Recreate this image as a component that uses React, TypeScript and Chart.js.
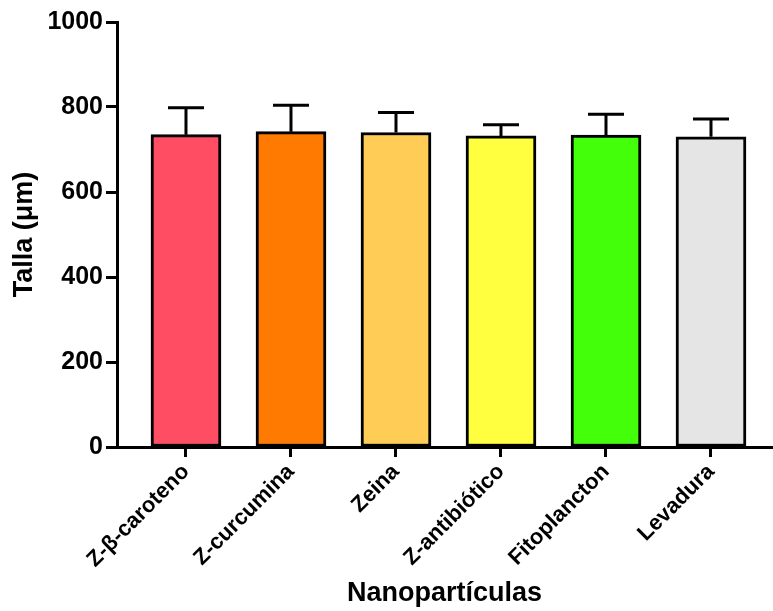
import React, { useEffect, useRef } from 'react';
import { Chart, registerables } from 'chart.js';

Chart.register(...registerables);

const categories = ['Z-β-caroteno', 'Z-curcumina', 'Zeina', 'Z-antibiótico', 'Fitoplancton', 'Levadura'];
const means = [735, 742, 740, 732, 734, 730];
const sdUpper = [63, 62, 47, 26, 49, 42];
const barColors = ['#FF4D63', '#FF7A00', '#FFCC55', '#FFFF40', '#44FF0A', '#E5E5E5'];
const yTicks = [0, 200, 400, 600, 800, 1000];

const FONT = "'Liberation Sans', Arial, Helvetica, sans-serif";

const errorBarPlugin = {
  id: 'errorBars',
  afterDatasetsDraw(chart: any) {
    const { ctx } = chart;
    const y = chart.scales.y;
    const meta = chart.getDatasetMeta(0);
    ctx.save();
    ctx.strokeStyle = '#000';
    ctx.lineWidth = 3;
    ctx.lineCap = 'butt';
    meta.data.forEach((bar: any, i: number) => {
      const top = y.getPixelForValue(means[i] + sdUpper[i]);
      ctx.beginPath();
      ctx.moveTo(bar.x, bar.y);
      ctx.lineTo(bar.x, top);
      ctx.moveTo(bar.x - 18, top);
      ctx.lineTo(bar.x + 18, top);
      ctx.stroke();
    });
    ctx.restore();
  },
};

export default function App() {
  const ref = useRef<HTMLCanvasElement | null>(null);

  useEffect(() => {
    if (!ref.current) return;
    const chart = new Chart(ref.current, {
      type: 'bar',
      data: {
        datasets: [
          {
            data: means.map((m, i) => ({ x: i, y: m })),
            backgroundColor: barColors,
            borderColor: '#000',
            borderWidth: 3,
            borderSkipped: false,
            barThickness: 70,
          } as any,
        ],
      },
      options: {
        responsive: false,
        animation: false,
        events: [],
        layout: { padding: { top: 22, right: 1, bottom: 0, left: 0 } },
        plugins: { legend: { display: false }, tooltip: { enabled: false } },
        scales: {
          x: {
            type: 'linear',
            offset: false,
            min: -0.657,
            max: 5.581,
            afterBuildTicks: (axis: any) => {
              axis.ticks = categories.map((_, i) => ({ value: i }));
            },
            afterFit: (s: any) => {
              s.height = 164;
            },
            grid: { display: true, offset: false, drawOnChartArea: false, drawTicks: true, tickLength: 10, tickWidth: 3, tickColor: '#000' },
            border: { display: true, color: '#000', width: 3 },
            ticks: {
              autoSkip: false,
              minRotation: 45,
              maxRotation: 45,
              padding: 2,
              color: '#000',
              font: { family: FONT, size: 22, weight: 'bold' },
              callback: (v: any) => categories[v] ?? '',
            },
            title: {
              display: true,
              text: 'Nanopartículas',
              color: '#000',
              font: { family: FONT, size: 27, weight: 'bold' },
              padding: { top: 0, bottom: 1 },
            },
          },
          y: {
            min: 0,
            max: 1000,
            afterBuildTicks: (axis: any) => {
              axis.ticks = yTicks.map((v) => ({ value: v }));
            },
            afterFit: (s: any) => {
              s.width = 117;
            },
            grid: { display: true, drawOnChartArea: false, drawTicks: true, tickLength: 11, tickWidth: 3, tickColor: '#000' },
            border: { display: true, color: '#000', width: 3 },
            ticks: {
              color: '#000',
              padding: 3,
              font: { family: FONT, size: 25, weight: 'bold' },
              callback: (v: any) => String(v),
            },
            title: {
              display: true,
              text: 'Talla (μm)',
              color: '#000',
              font: { family: FONT, size: 27, weight: 'bold' },
              padding: { top: 8, bottom: 0 },
            },
          },
        },
      },
      plugins: [errorBarPlugin],
    } as any);
    return () => chart.destroy();
  }, []);

  return (
    <div style={{ position: 'fixed', left: 0, top: 0, width: 773, height: 611, background: '#fff' }}>
      <canvas ref={ref} width={773} height={611} style={{ display: 'block' }} />
    </div>
  );
}
